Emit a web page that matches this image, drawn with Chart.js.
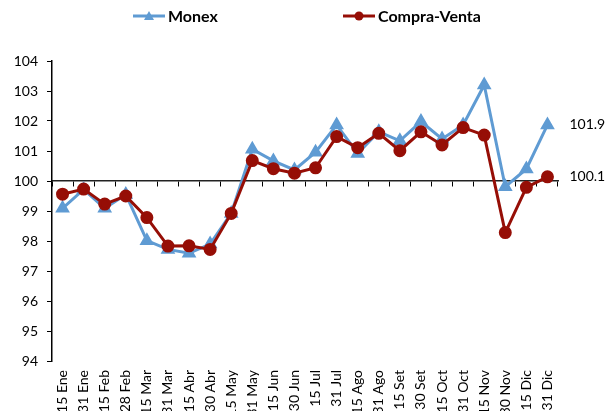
<!DOCTYPE html>
<html>
<head>
<meta charset="utf-8">
<script src="https://cdn.jsdelivr.net/npm/chart.js@4.4.1/dist/chart.umd.min.js"></script>
<style>
  html, body { margin: 0; padding: 0; background: #fff; overflow: hidden; }
  #wrap { position: relative; width: 608px; height: 411px; }
  #legend { position: absolute; left: 0; top: 0; width: 608px; height: 32px; font-family: Lato, "Liberation Sans", sans-serif; font-weight: bold; font-size: 16px; color: #000; }
  .item { position: absolute; top: 6px; display: flex; align-items: center; white-space: nowrap; }
  .item canvas { margin-right: 3px; }
</style>
</head>
<body>
<div id="wrap">
  <canvas id="c" width="608" height="411"></canvas>
  <div id="legend"></div>
</div>
<script>
const categories = ["15 Ene","31 Ene","15 Feb","28 Feb","15 Mar","31 Mar","15 Abr","30 Abr","15 May","31 May","15 Jun","30 Jun","15 Jul","31 Jul","15 Ago","31 Ago","15 Set","30 Set","15 Oct","31 Oct","15 Nov","30 Nov","15 Dic","31 Dic"];
const monex = [99.09, 99.72, 99.09, 99.55, 98.01, 97.72, 97.59, 97.90, 98.92, 101.06, 100.67, 100.37, 100.96, 101.87, 100.92, 101.64, 101.34, 101.98, 101.40, 101.87, 103.20, 99.81, 100.40, 101.87];
const compraVenta = [99.56, 99.73, 99.23, 99.50, 98.78, 97.83, 97.84, 97.72, 98.92, 100.68, 100.41, 100.26, 100.44, 101.48, 101.11, 101.59, 101.01, 101.64, 101.20, 101.78, 101.53, 98.28, 99.79, 100.14];
const yMin = 94, yMax = 104, yStep = 1;
const seriesNames = ["Monex", "Compra-Venta"];

const BLUE = '#5F9BD3';
const RED = '#960E06';
const FONT = 'Lato, "Liberation Sans", sans-serif';

function markerCanvas(color, style) {
  const c = document.createElement('canvas');
  c.width = 32; c.height = 12;
  const g = c.getContext('2d');
  g.strokeStyle = color; g.lineWidth = 3;
  g.beginPath(); g.moveTo(0, 6); g.lineTo(32, 6); g.stroke();
  g.fillStyle = color;
  if (style === 'triangle') {
    g.beginPath(); g.moveTo(16, 1); g.lineTo(21, 10); g.lineTo(11, 10); g.closePath(); g.fill();
  } else {
    g.beginPath(); g.arc(16, 6, 4.5, 0, Math.PI * 2); g.fill();
  }
  return c;
}

// HTML legend
const legend = document.getElementById('legend');
const legendDefs = [
  { name: seriesNames[0], color: BLUE, style: 'triangle', left: 133 },
  { name: seriesNames[1], color: RED, style: 'circle', left: 343 }
];
legendDefs.forEach(d => {
  const it = document.createElement('div');
  it.className = 'item';
  it.style.left = d.left + 'px';
  it.appendChild(markerCanvas(d.color, d.style));
  const sp = document.createElement('span');
  sp.textContent = d.name;
  it.appendChild(sp);
  legend.appendChild(it);
});

const endLabels = {
  id: 'endLabels',
  afterDatasetsDraw(chart) {
    const ctx = chart.ctx;
    ctx.save();
    ctx.font = '14px ' + FONT;
    ctx.fillStyle = '#000';
    ctx.textBaseline = 'middle';
    ctx.textAlign = 'left';
    chart.data.datasets.forEach((ds, i) => {
      const meta = chart.getDatasetMeta(i);
      const last = meta.data[meta.data.length - 1];
      const v = ds.data[ds.data.length - 1];
      ctx.fillText(v.toFixed(1), last.x + 22, last.y);
    });
    ctx.restore();
  }
};

new Chart(document.getElementById('c'), {
  type: 'line',
  data: {
    labels: categories,
    datasets: [
      {
        label: seriesNames[0], data: monex, borderColor: BLUE, backgroundColor: BLUE,
        borderWidth: 3, pointStyle: 'triangle', pointRadius: 5.5, pointHoverRadius: 5.5,
        pointBackgroundColor: BLUE, pointBorderColor: BLUE, tension: 0, order: 1
      },
      {
        label: seriesNames[1], data: compraVenta, borderColor: RED, backgroundColor: RED,
        borderWidth: 3, pointStyle: 'circle', pointRadius: 5, pointHoverRadius: 5,
        pointBackgroundColor: RED, pointBorderColor: RED, tension: 0, order: 0
      }
    ]
  },
  options: {
    responsive: false,
    animation: false,
    layout: { padding: { top: 61, right: 50, bottom: 0, left: 0 } },
    plugins: { legend: { display: false }, tooltip: { enabled: false } },
    scales: {
      x: {
        type: 'category',
        offset: true,
        grid: { display: false, drawTicks: false },
        border: { display: false },
        ticks: { autoSkip: false, minRotation: 90, maxRotation: 90, padding: 9, color: '#000', font: { family: FONT, size: 14 } },
        afterFit(s) { s.height = 50; }
      },
      x2: {
        type: 'category',
        labels: categories,
        position: { y: 100 },
        offset: true,
        grid: { offset: true, drawOnChartArea: false, drawTicks: true, tickLength: 5, color: '#000', lineWidth: 1 },
        border: { display: true, color: '#222', width: 1.5 },
        ticks: { display: false }
      },
      y: {
        min: yMin, max: yMax,
        grid: { drawOnChartArea: false, drawTicks: true, tickLength: 5, color: '#000' },
        border: { display: true, color: '#000', width: 1.5 },
        ticks: { stepSize: yStep, padding: 9, color: '#000', font: { family: FONT, size: 14 } },
        afterFit(s) { s.width = 52; }
      }
    }
  },
  plugins: [endLabels]
});
</script>
</body>
</html>
